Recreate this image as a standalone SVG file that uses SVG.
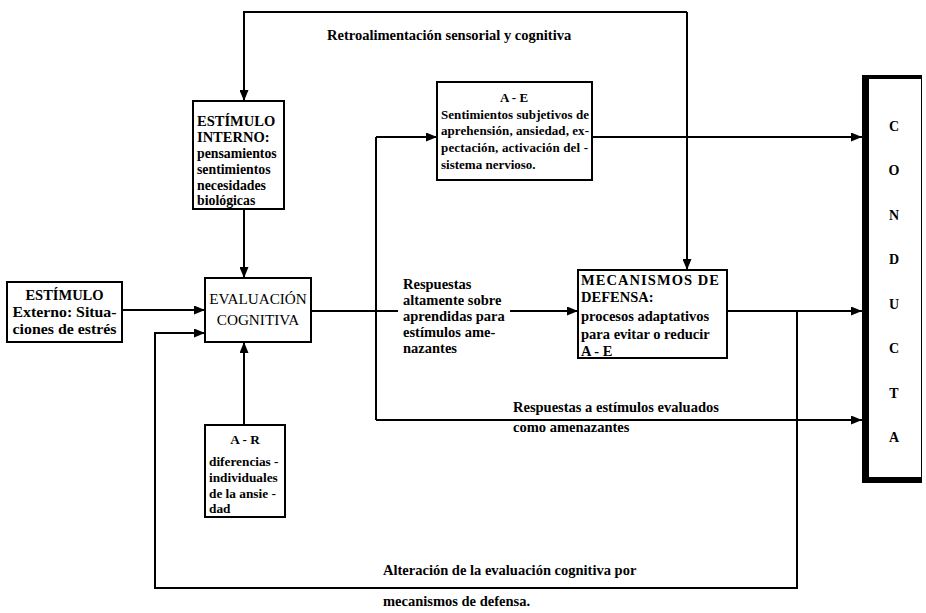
<svg xmlns="http://www.w3.org/2000/svg" width="926" height="613" viewBox="0 0 926 613">
<style>
.box{fill:#fff;stroke:#000;stroke-width:2}
.ln{fill:none;stroke:#000;stroke-width:2}
.arr{fill:none;stroke:#000;stroke-width:2;marker-end:url(#ah)}
text{font-family:"Liberation Serif","Times New Roman",serif;font-weight:bold;font-size:14.5px;fill:#000}
.big{font-size:14.5px}
.md{font-size:13.8px}
.ar{font-size:13.3px}
.sm{font-size:13px}
.ev{font-size:15.2px;font-weight:normal}
.c{text-anchor:middle}
.cl{font-size:14px;text-anchor:middle}
</style>
<defs>
<marker id="ah" markerWidth="11" markerHeight="9" refX="11" refY="4.5" orient="auto" markerUnits="userSpaceOnUse"><path d="M0,0 L11,4.5 L0,9 Z" fill="#000"/></marker>
</defs>
<g id="connectors">
<path class="arr" d="M687,12 H244 V101"/>
<path class="arr" d="M687,12 V270"/>
<path class="arr" d="M244,209 V278"/>
<path class="arr" d="M122,310 H205"/>
<path class="arr" d="M797,311 V588 H155 V333 H205"/>
<path class="arr" d="M244,425 V342"/>
<path class="ln" d="M311,311 H398"/>
<path class="arr" d="M510,311 H578"/>
<path class="ln" d="M376,137 V420"/>
<path class="arr" d="M376,137 H437"/>
<path class="arr" d="M376,420 H862"/>
<path class="arr" d="M592,137 H862"/>
<path class="arr" d="M727,311 H862"/>
</g>
<g id="labels">
<text x="327" y="40">Retroalimentación sensorial y cognitiva</text>
<text x="403" y="289">Respuestas</text>
<text x="403" y="305">altamente sobre</text>
<text x="403" y="321">aprendidas para</text>
<text x="403" y="337">estímulos ame-</text>
<text x="403" y="353">nazantes</text>
<text x="513" y="412">Respuestas a estímulos evaluados</text>
<text x="513" y="432">como amenazantes</text>
<text x="383" y="575">Alteración de la evaluación cognitiva por</text>
<text x="383" y="606">mecanismos de defensa.</text>
</g>
<g id="estimulo-interno">
<rect class="box" x="193" y="101" width="91" height="108"/>
<text class="big" x="197" y="126">ESTÍMULO</text>
<text class="big" x="197" y="142">INTERNO:</text>
<text class="md" x="197" y="158">pensamientos</text>
<text class="md" x="197" y="174">sentimientos</text>
<text class="md" x="197" y="190">necesidades</text>
<text class="md" x="197" y="205">biológicas</text>
</g>
<g id="estimulo-externo">
<rect class="box" x="7" y="282" width="115" height="60"/>
<text class="c big" x="64.5" y="300">ESTÍMULO</text>
<text class="c" x="64.5" y="317" textLength="104" lengthAdjust="spacingAndGlyphs">Externo: Situa-</text>
<text class="c" x="64.5" y="334" textLength="104" lengthAdjust="spacingAndGlyphs">ciones de estrés</text>
</g>
<g id="evaluacion">
<rect class="box" x="205" y="278" width="106" height="64"/>
<text class="c ev" x="258" y="304">EVALUACIÓN</text>
<text class="c ev" x="258" y="325">COGNITIVA</text>
</g>
<g id="a-r">
<rect class="box" x="205" y="425" width="80" height="92"/>
<text class="c ar" x="245" y="444">A - R</text>
<text class="ar" x="209" y="466">diferencias -</text>
<text class="ar" x="209" y="482">individuales</text>
<text class="ar" x="209" y="498">de la ansie -</text>
<text class="ar" x="209" y="513">dad</text>
</g>
<g id="a-e">
<rect class="box" x="437" y="82" width="155" height="98"/>
<text class="c sm" x="514" y="102">A - E</text>
<text class="sm" x="441" y="119" textLength="148">Sentimientos subjetivos de</text>
<text class="sm" x="441" y="135" textLength="148">aprehensión, ansiedad, ex-</text>
<text class="sm" x="441" y="152" textLength="147">pectación, activación del -</text>
<text class="sm" x="441" y="169">sistema nervioso.</text>
</g>
<g id="mecanismos">
<rect class="box" x="578" y="270" width="149" height="88"/>
<text x="581" y="285" textLength="138">MECANISMOS DE</text>
<text x="581" y="302">DEFENSA:</text>
<text x="581" y="321">procesos adaptativos</text>
<text x="581" y="339">para evitar o reducir</text>
<text x="581" y="356">A - E</text>
</g>
<g id="conducta">
<rect x="862" y="75" width="60" height="408" fill="#000"/>
<rect x="869" y="79" width="52" height="398" fill="#fff"/>
<text class="cl" x="894" y="131">C</text>
<text class="cl" x="894" y="175">O</text>
<text class="cl" x="894" y="220">N</text>
<text class="cl" x="894" y="264">D</text>
<text class="cl" x="894" y="309">U</text>
<text class="cl" x="894" y="353">C</text>
<text class="cl" x="894" y="398">T</text>
<text class="cl" x="894" y="442">A</text>
</g>
</svg>
